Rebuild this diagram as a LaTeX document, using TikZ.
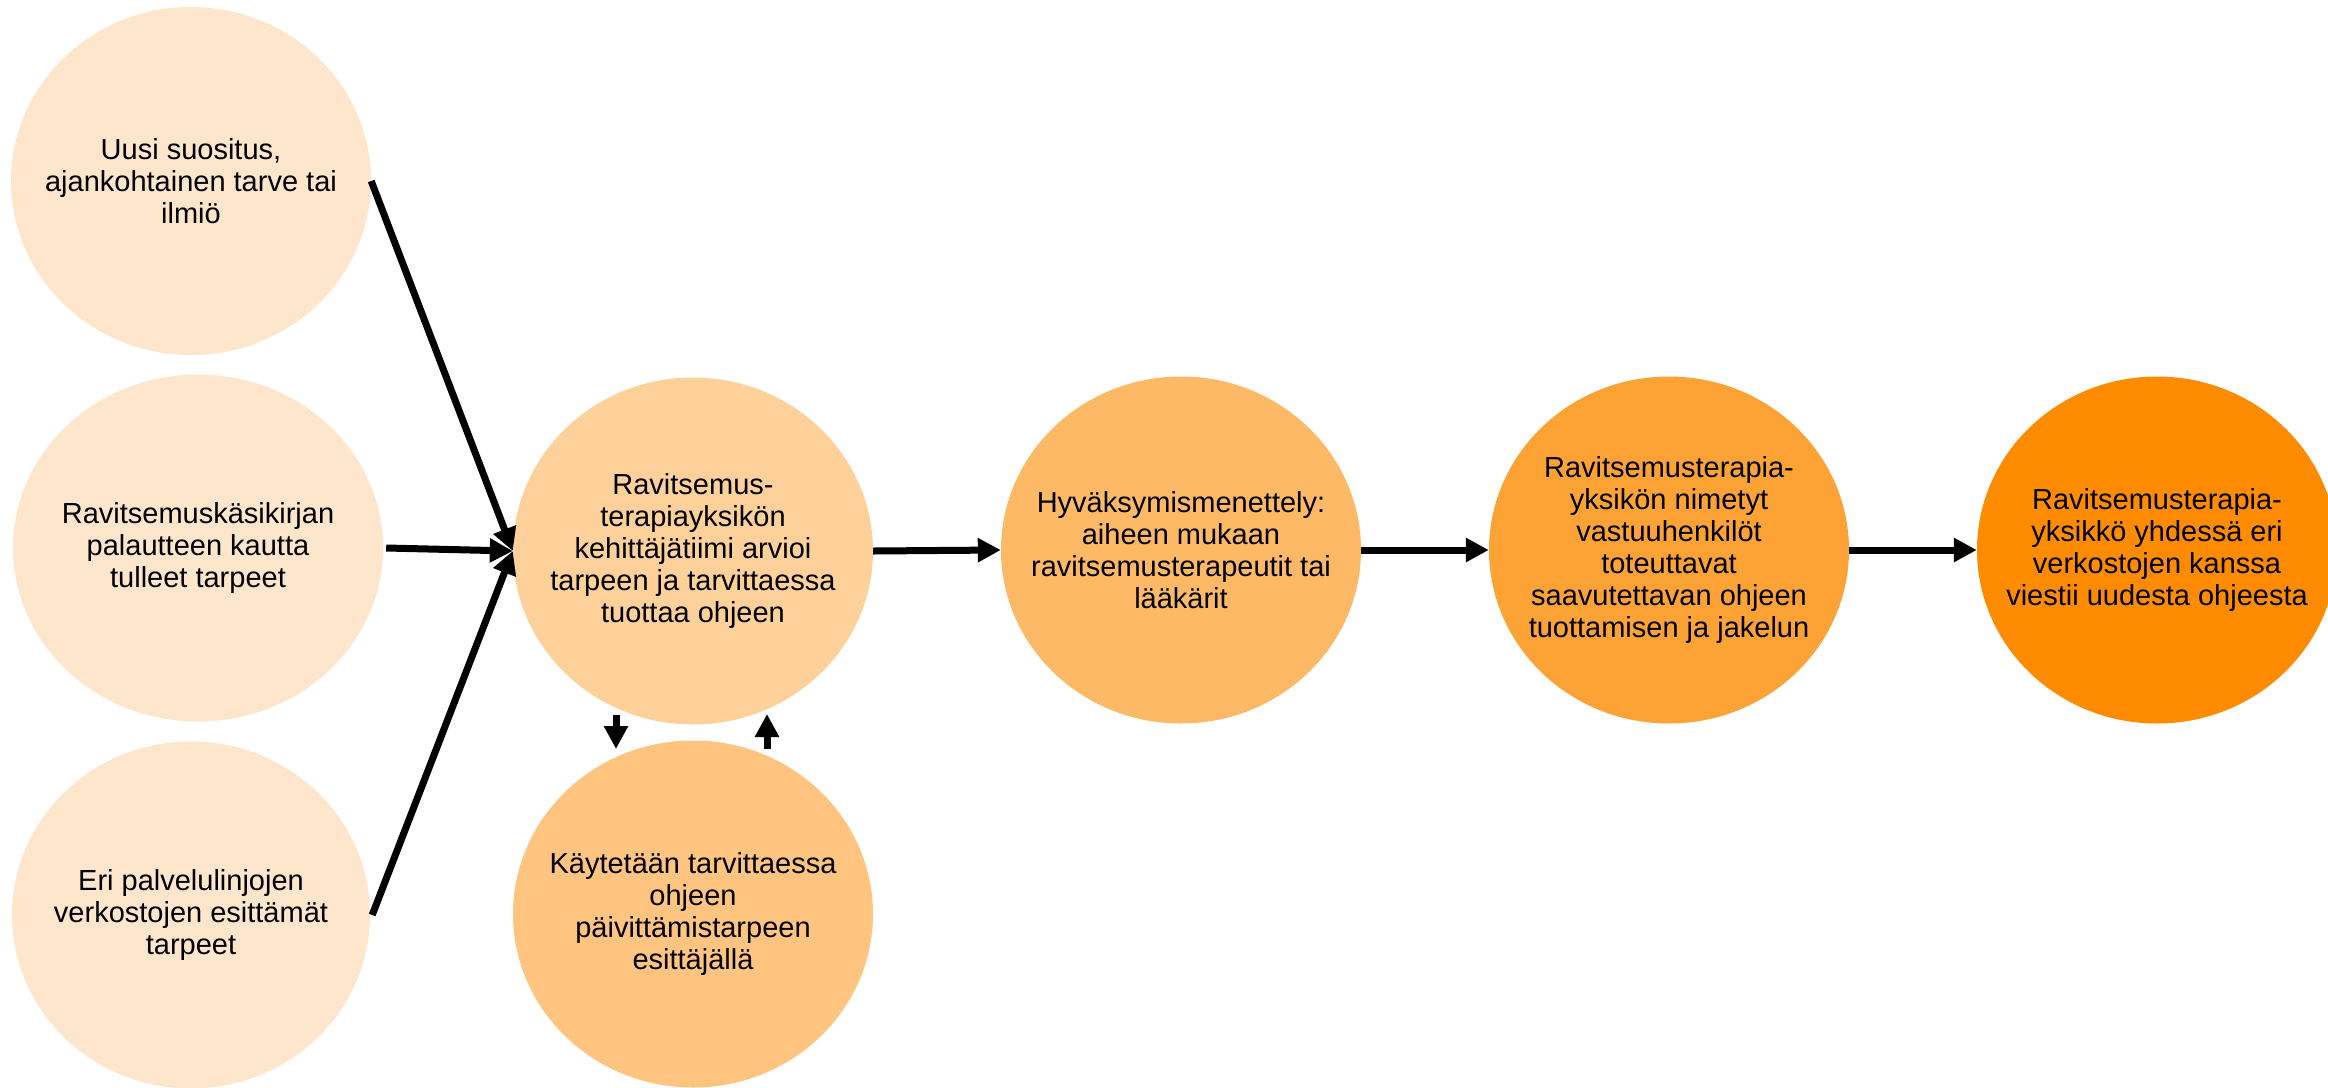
\documentclass[tikz,border=0pt]{standalone}
\usepackage{fontspec}
\setmainfont{Liberation Sans}
\usetikzlibrary{shapes.geometric,arrows.meta,calc}
\definecolor{cA}{RGB}{254,230,204}
\definecolor{cB}{RGB}{254,209,154}
\definecolor{cC}{RGB}{254,196,128}
\definecolor{cD}{RGB}{253,185,102}
\definecolor{cE}{RGB}{253,162,53}
\definecolor{cF}{RGB}{255,140,0}
\tikzset{
  bub/.style={ellipse, draw=none, inner sep=0pt, minimum width=360pt, minimum height=347pt},
  txt/.style={align=center, inner sep=0pt, font=\fontsize{29}{32}\selectfont, text=black},
  arr/.style={line width=7pt, -{Triangle[length=23pt,width=23pt]}},
}
\begin{document}
\begin{tikzpicture}[x=1pt,y=-1pt]
\clip (0,0) rectangle (2328,1087);
\fill[white] (0,0) rectangle (2328,1087);
% bubbles
\node[bub, fill=cA, minimum height=348pt] (a) at (191,181) {};
\node[bub, fill=cA, minimum width=370pt] (b) at (198,548) {};
\node[bub, fill=cA, minimum width=358pt] (d) at (191,915) {};
\node[bub, fill=cB] (c) at (693,551) {};
\node[bub, fill=cC] (f) at (693,914) {};
\node[bub, fill=cD] (e) at (1181,550) {};
\node[bub, fill=cE] (g) at (1669,550) {};
\node[bub, fill=cF] (h) at (2157,550) {};
% texts
\node[txt] (ta) at (a) {Uusi suositus,\\ajankohtainen tarve tai\\ilmiö};
\node[txt] (tb) at (b) {Ravitsemuskäsikirjan\\palautteen kautta\\tulleet tarpeet};
\node[txt] (td) at (d) {Eri palvelulinjojen\\verkostojen esittämät\\tarpeet};
\node[txt] (tc) at (c) {Ravitsemus-\\terapiayksikön\\kehittäjätiimi arvioi\\tarpeen ja tarvittaessa\\tuottaa ohjeen};
\node[txt] (tf) at (f) {Käytetään tarvittaessa\\ohjeen\\päivittämistarpeen\\esittäjällä};
\node[txt] (te) at (e) {Hyväksymismenettely:\\aiheen mukaan\\ravitsemusterapeutit tai\\lääkärit};
\node[txt] (tg) at (g) {Ravitsemusterapia-\\yksikön nimetyt\\vastuuhenkilöt\\toteuttavat\\saavutettavan ohjeen\\tuottamisen ja jakelun};
\node[txt] (th) at (h) {Ravitsemusterapia-\\yksikkö yhdessä eri\\verkostojen kanssa\\viestii uudesta ohjeesta};
% connectors
\draw[arr] (a.east) -- (c.west);
\draw[arr] ([xshift=3pt]b.east) -- (c.west);
\draw[arr] ([xshift=2pt]d.east) -- (c.west);
\draw[arr] (c.east) -- (e.west);
\draw[arr] (e.east) -- (g.west);
\draw[arr] (g.east) -- (h.west);
\coordinate (dn1) at ($(c.center)+(-77,164)$);
\coordinate (dn2) at ($(c.center)+(-77,198)$);
\coordinate (up1) at ($(c.center)+(74,198)$);
\coordinate (up2) at ($(c.center)+(74,163)$);
\draw[arr] (dn1) -- (dn2);
\draw[arr] (up1) -- (up2);
\end{tikzpicture}
\end{document}
